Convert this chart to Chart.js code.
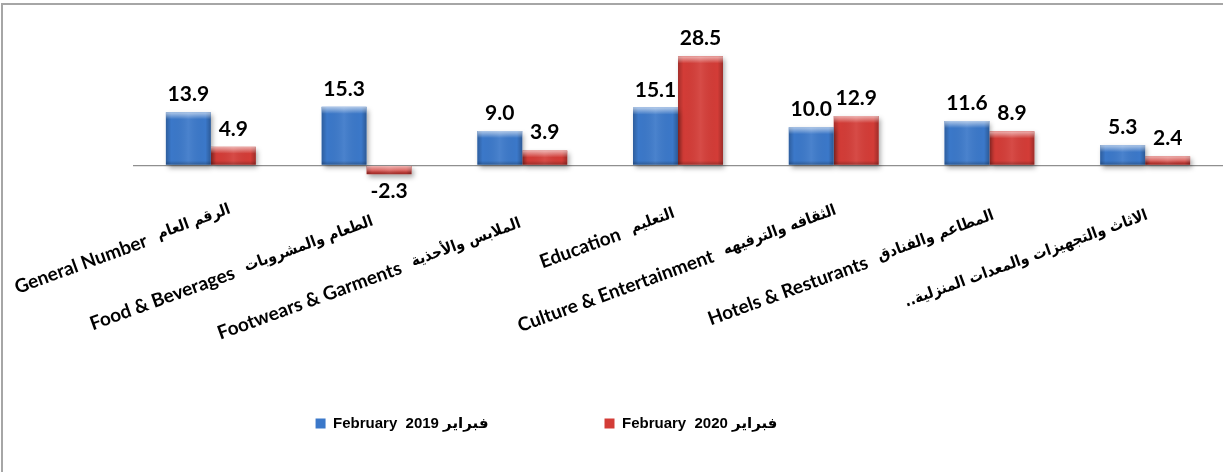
<!DOCTYPE html>
<html>
<head>
<meta charset="utf-8">
<script src="https://cdn.jsdelivr.net/npm/chart.js@4/dist/chart.umd.min.js"></script>
<style>
  html, body { margin: 0; padding: 0; background: #fff; }
  #wrap { position: absolute; left: 0; top: 0; width: 1223px; height: 472px; }
  #frame { position: absolute; left: 1px; top: 3px; width: 1400px; height: 600px;
           border-left: 2px solid #a6a6a6; border-top: 2px solid #a6a6a6; pointer-events: none; }
</style>
</head>
<body>
<div id="wrap"><canvas id="chart"></canvas></div>
<div id="frame"></div>
<script>
// Category names (English + Arabic, separated by two spaces)
const categories = [
  'General Number  الرقم العام',
  'Food & Beverages  الطعام والمشروبات',
  'Footwears & Garments  الملابس والأحذية',
  'Education  التعليم',
  'Culture & Entertainment  الثقافه والترفيهه',
  'Hotels & Resturants  المطاعم والفنادق',
  'الاثاث والتجهيزات والمعدات المنزلية..'
];

// Series names
const seriesNames = ['February  2019 فبراير', 'February  2020 فبراير'];

// Annual change, %
const feb2019 = [13.9, 15.3, 9.0, 15.1, 10.0, 11.6, 5.3];
const feb2020 = [4.9, -2.3, 3.9, 28.5, 12.9, 8.9, 2.4];

// Value axis range (hidden; only the zero line is drawn)
const yRange = { min: -8, max: 38, step: 2 };

// ---- styling ----
const BLUE = '#3b78c9';
const RED = '#d33c37';
const LATIN_FONT = "bold 19px Lato, 'DejaVu Sans', sans-serif";
const ARABIC_FONT = "bold 15.5px 'DejaVu Sans Condensed', 'DejaVu Sans', sans-serif";
const VALUE_FONT = "bold 21px Lato, 'DejaVu Sans', sans-serif";
const LABEL_ANGLE = 20 * Math.PI / 180;
const PART_GAP = 12;
// per-category label nudges [dx, dy] from the tick position
const labelNudge = [[19, -2], [6, 10], [-2, 12], [-4, 2], [2, -1], [4, 4], [2, 4]];

// soft drop shadow under the bars
const barShadow = {
  id: 'barShadow',
  beforeDatasetDraw(chart) {
    const c = chart.ctx;
    c.save();
    c.shadowColor = 'rgba(0,0,0,0.35)';
    c.shadowBlur = 5;
    c.shadowOffsetX = 2;
    c.shadowOffsetY = 3;
  },
  afterDatasetDraw(chart) { chart.ctx.restore(); }
};

// bevel highlights on each bar + value labels
const barDecor = {
  id: 'barDecor',
  afterDatasetsDraw(chart) {
    const c = chart.ctx;
    chart.data.datasets.forEach((ds, di) => {
      const meta = chart.getDatasetMeta(di);
      meta.data.forEach((el, j) => {
        const p = el.getProps(['x', 'y', 'base', 'width'], true);
        const l = p.x - p.width / 2, r = p.x + p.width / 2;
        const t = Math.min(p.y, p.base), b = Math.max(p.y, p.base);
        c.save();
        c.beginPath(); c.rect(l, t, r - l, b - t); c.clip();
        let g = c.createLinearGradient(l, 0, r, 0);
        g.addColorStop(0, 'rgba(0,0,0,0.22)');
        g.addColorStop(0.12, 'rgba(0,0,0,0)');
        g.addColorStop(0.5, 'rgba(255,255,255,0.08)');
        g.addColorStop(0.88, 'rgba(0,0,0,0)');
        g.addColorStop(1, 'rgba(0,0,0,0.25)');
        c.fillStyle = g; c.fillRect(l, t, r - l, b - t);
        g = c.createLinearGradient(0, t, 0, t + 7);
        g.addColorStop(0, 'rgba(255,255,255,0.6)');
        g.addColorStop(1, 'rgba(255,255,255,0)');
        c.fillStyle = g; c.fillRect(l, t, r - l, 7);
        g = c.createLinearGradient(0, b - 4, 0, b);
        g.addColorStop(0, 'rgba(0,0,0,0)');
        g.addColorStop(1, 'rgba(0,0,0,0.25)');
        c.fillStyle = g; c.fillRect(l, b - 4, r - l, 4);
        c.restore();

        const v = ds.data[j];
        c.save();
        c.font = VALUE_FONT;
        c.fillStyle = '#000';
        c.textAlign = 'center';
        c.textBaseline = 'alphabetic';
        c.fillText(v.toFixed(1), p.x, v >= 0 ? p.y - 11 : p.y + 24);
        c.restore();
      });
    });
  }
};

// rotated category labels under the plot: Arabic part at the end, English before it
const categoryLabels = {
  id: 'categoryLabels',
  afterDraw(chart) {
    const c = chart.ctx;
    const xs = chart.scales.x;
    categories.forEach((label, i) => {
      const [dx, dy] = labelNudge[i];
      const ax = xs.getPixelForTick(i) + dx;
      const ay = xs.top + 15 + dy;
      const parts = label.split('  ');
      const ar = parts.length > 1 ? parts[1] : parts[0];
      const en = parts.length > 1 ? parts[0] : null;
      c.save();
      c.translate(ax, ay);
      c.rotate(-LABEL_ANGLE);
      c.fillStyle = '#000';
      c.textBaseline = 'middle';
      c.textAlign = 'right';
      c.font = ARABIC_FONT;
      c.direction = 'rtl';
      c.fillText(ar, 0, 0);
      const wa = c.measureText(ar).width;
      if (en) {
        c.font = LATIN_FONT;
        c.direction = 'ltr';
        c.fillText(en, -(wa + PART_GAP), 1);
      }
      c.restore();
    });
  }
};

// moves the legend row left of centre
const legendShift = {
  id: 'legendShift',
  afterLayout(chart) {
    const lg = chart.legend;
    if (lg) { lg.left -= 65; lg.right -= 65; }
  }
};

new Chart(document.getElementById('chart'), {
  type: 'bar',
  data: {
    labels: categories,
    datasets: [
      { label: seriesNames[0], data: feb2019, backgroundColor: BLUE, borderWidth: 0 },
      { label: seriesNames[1], data: feb2020, backgroundColor: RED, borderWidth: 0 }
    ]
  },
  options: {
    responsive: true,
    maintainAspectRatio: false,
    animation: false,
    events: [],
    categoryPercentage: 0.578,
    barPercentage: 1.0,
    layout: { padding: { top: 20, bottom: 31, left: 0, right: 0 } },
    scales: {
      x: {
        grid: { display: false },
        border: { display: false },
        ticks: { display: false },
        afterFit(s) { s.height = 104; }
      },
      y: {
        min: yRange.min,
        max: yRange.max,
        ticks: { display: false, stepSize: yRange.step },
        border: { display: false },
        grid: {
          drawTicks: false,
          color: (ctx) => (ctx.tick && ctx.tick.value === 0 ? '#8f8f8f' : 'rgba(0,0,0,0)'),
          lineWidth: 1.2
        },
        afterFit(s) { s.width = 133; }
      }
    },
    plugins: {
      tooltip: { enabled: false },
      legend: {
        position: 'bottom',
        labels: {
          color: '#000',
          boxWidth: 10,
          boxHeight: 10,
          padding: 116,
          font: { family: "'Liberation Sans', Arial, 'DejaVu Sans', sans-serif", size: 15, weight: 'bold' }
        }
      }
    }
  },
  plugins: [barShadow, barDecor, categoryLabels, legendShift]
});
</script>
</body>
</html>
